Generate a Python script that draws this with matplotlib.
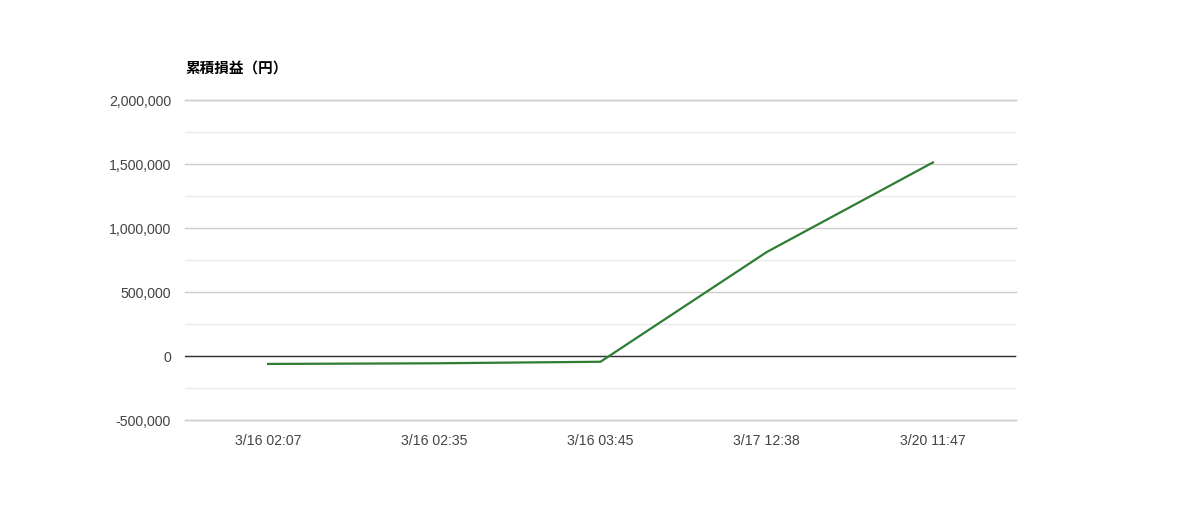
import matplotlib
matplotlib.use("Agg")
import matplotlib.pyplot as plt
from matplotlib.ticker import FuncFormatter, MultipleLocator

categories = ["3/16 02:07", "3/16 02:35", "3/16 03:45", "3/17 12:38", "3/20 11:47"]
values = [-62000, -57000, -45000, 812000, 1512000]
title = "累積損益（円）"

plt.rcParams['font.family'] = ['Liberation Sans', 'Noto Sans CJK JP', 'DejaVu Sans']

fig = plt.figure(figsize=(12, 5.2), dpi=100)
ax = fig.add_axes([185/1200, 1-420/520, (1016-185)/1200, 320/520])

x = list(range(len(categories)))
ax.plot(x, values, color="#2e7d32", linewidth=1.6, zorder=3)

ax.set_xlim(-0.5, len(categories)-0.5)
ax.set_ylim(-500000, 2000000)
ax.yaxis.set_major_locator(MultipleLocator(500000))
ax.yaxis.set_minor_locator(MultipleLocator(250000))
ax.yaxis.set_major_formatter(FuncFormatter(lambda v, p: f"{int(v):,}"))
ax.set_xticks(x)
ax.set_xticklabels(categories)

ax.grid(axis='y', which='major', color='#cccccc', linewidth=1)
ax.grid(axis='y', which='minor', color='#ebebeb', linewidth=1)
for gl in ax.get_ygridlines():
    gl.set_clip_on(False)
ax.axhline(-500000, color='#cccccc', linewidth=1, clip_on=False, zorder=1)
ax.axhline(2000000, color='#cccccc', linewidth=1, clip_on=False, zorder=1)
ax.axhline(0, color='#333333', linewidth=1, zorder=2)
ax.set_axisbelow(True)

for s in ax.spines.values():
    s.set_visible(False)
ax.tick_params(axis='both', which='both', length=0, labelsize=10.2, labelcolor='#444444')
ax.tick_params(axis='y', pad=10)
ax.tick_params(axis='x', pad=10)

fig.text(185/1200, 1-69/520, title, fontsize=10.5, fontweight='bold', color='#000000',
         family=['Noto Sans CJK JP', 'DejaVu Sans'], va='center', ha='left')

fig.savefig("out.png", dpi=100, facecolor='white')
